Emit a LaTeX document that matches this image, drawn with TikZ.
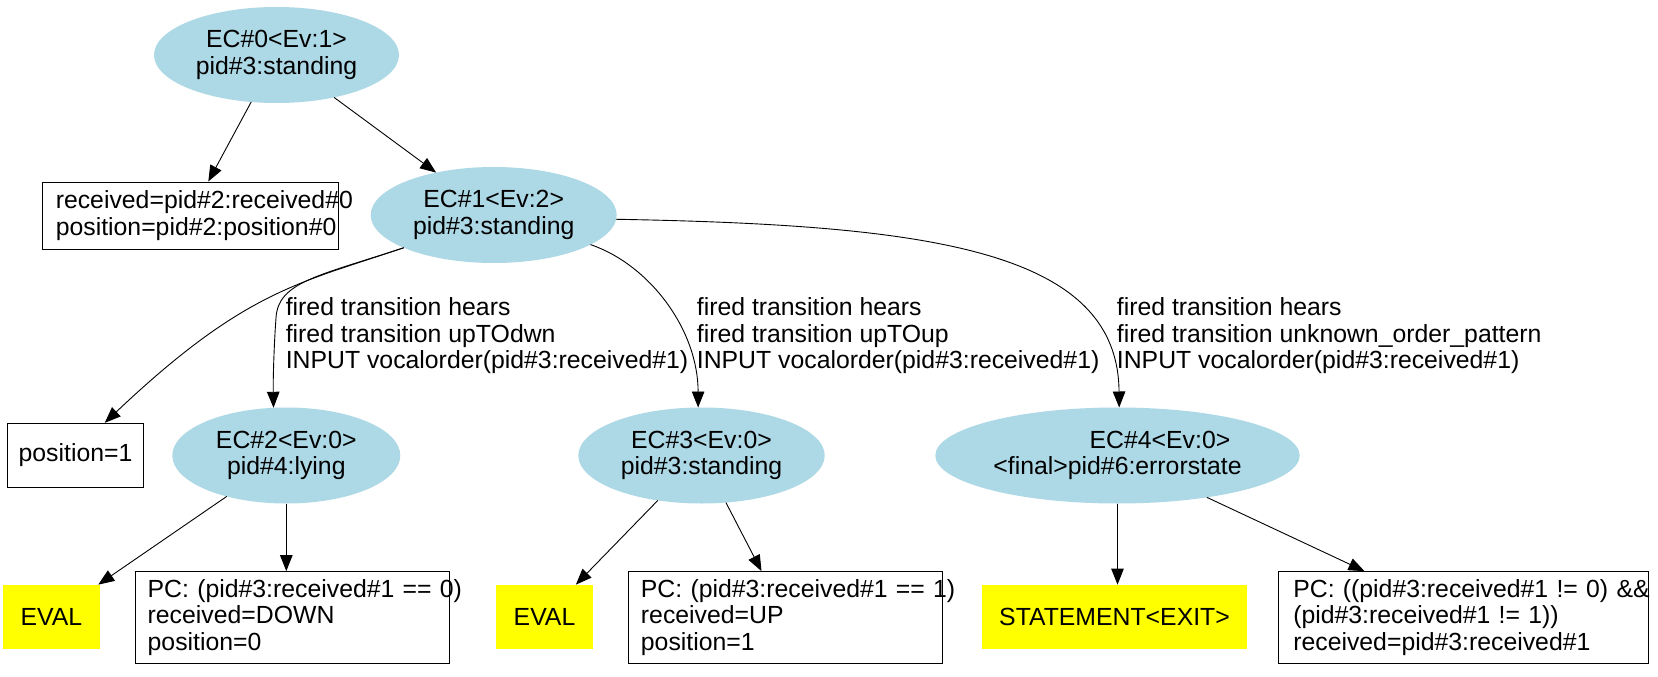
\documentclass[tikz,border=0pt]{standalone}
\usepackage{fontspec}
\setmainfont{Liberation Sans}
\usetikzlibrary{shapes.geometric,arrows.meta}
\definecolor{nodeblue}{HTML}{ADD8E6}
\definecolor{hlyellow}{HTML}{FFFF00}
\begin{document}
\begin{tikzpicture}[x=1pt,y=-1pt,
  font=\fontsize{24.8}{26.7}\selectfont,
  ec/.style={ellipse, fill=nodeblue, inner sep=0pt, outer sep=0pt, align=center, minimum height=96pt},
  infobox/.style={rectangle, draw, line width=1pt, inner ysep=0pt, align=left, minimum height=91.7pt},
  plainbox/.style={rectangle, draw, line width=1pt, inner sep=0pt, align=center},
  hl/.style={rectangle, fill=hlyellow, inner sep=0pt, minimum height=64.3pt},
  edge/.style={-{Triangle[length=16pt,width=12.5pt]}, line width=0.9pt},
  elabel/.style={anchor=west, align=left, inner sep=0pt}]
\fill[white] (0,0) rectangle (1658,677);
\useasboundingbox (0,0) rectangle (1658,677);

% nodes
\node[ec, minimum width=245pt] (ec0) at (276.5,55) {EC\#0<Ev:1>\\pid\#3:standing};
\node[ec, minimum width=246pt] (ec1) at (493.7,215) {EC\#1<Ev:2>\\pid\#3:standing};
\node[infobox, text width=268.4pt, inner xsep=13.8pt, minimum height=67pt] (recv) at (190,215.5)
  {\mbox{received=pid\#2:received\#0}\\\mbox{position=pid\#2:position\#0}};
\node[plainbox, minimum width=136.4pt, minimum height=64pt] (pos1) at (75.5,455.3) {position=1};
\node[ec, minimum width=228pt] (ec2) at (286.3,455.5) {EC\#2<Ev:0>\\pid\#4:lying};
\node[ec, minimum width=246.4pt] (ec3) at (701.5,455.5) {EC\#3<Ev:0>\\pid\#3:standing};
\node[ec, minimum width=364.4pt] (ec4) at (1117.5,455.5) {\hspace*{85pt}EC\#4<Ev:0>\\<final>pid\#6:errorstate};

\node[hl, minimum width=96.7pt] (eval1) at (51.3,617) {EVAL};
\node[infobox, text width=289.2pt, inner xsep=12.4pt] (pc1) at (292.3,617.5)
  {\mbox{PC: (pid\#3:received\#1 == 0)}\\\mbox{received=DOWN}\\\mbox{position=0}};
\node[hl, minimum width=97pt] (eval2) at (544.5,617) {EVAL};
\node[infobox, text width=289.1pt, inner xsep=12.3pt] (pc2) at (785.5,617.5)
  {\mbox{PC: (pid\#3:received\#1 == 1)}\\\mbox{received=UP}\\\mbox{position=1}};
\node[hl, minimum width=265pt] (stmt) at (1114.5,617) {STATEMENT<EXIT>};
\node[infobox, text width=340pt, inner xsep=15pt] (pc3) at (1463.3,617.5)
  {\mbox{PC: ((pid\#3:received\#1 != 0) \&\&}\\\mbox{(pid\#3:received\#1 != 1))}\\\mbox{received=pid\#3:received\#1}};

% edge labels
\node[elabel] (lab1) at (285.6,335.8) {fired transition hears\\fired transition upTOdwn\\INPUT vocalorder(pid\#3:received\#1)};
\node[elabel] (lab2) at (696.7,335.8) {fired transition hears\\fired transition upTOup\\INPUT vocalorder(pid\#3:received\#1)};
\node[elabel] (lab3) at (1116.7,335.8) {fired transition hears\\fired transition unknown\_order\_pattern\\INPUT vocalorder(pid\#3:received\#1)};

% edges
\draw[edge] (ec0) -- (recv);
\draw[edge] (ec0) -- (ec1);
\draw[edge] (ec1.200) .. controls (300,283) and (245,290) .. (pos1.48);
\draw[edge] (ec1.200) .. controls (318,276) and (278,282) .. (276,318) .. controls (274,345) and (273,380) .. (ec2.105);
\draw[edge] (ec1.343) .. controls (650,265) and (698,330) .. (ec3.94);
\draw[edge] (ec1.358) .. controls (930,225) and (1118,250) .. (ec4.88);
\draw[edge] (ec2) -- (eval1);
\draw[edge] (ec2.south) -- (ec2.south |- pc1.north);
\draw[edge] (ec3) -- (eval2);
\draw[edge] (ec3) -- (pc2);
\draw[edge] (ec4.south) -- (ec4.south |- stmt.north);
\draw[edge] (ec4) -- (pc3);
\end{tikzpicture}
\end{document}
